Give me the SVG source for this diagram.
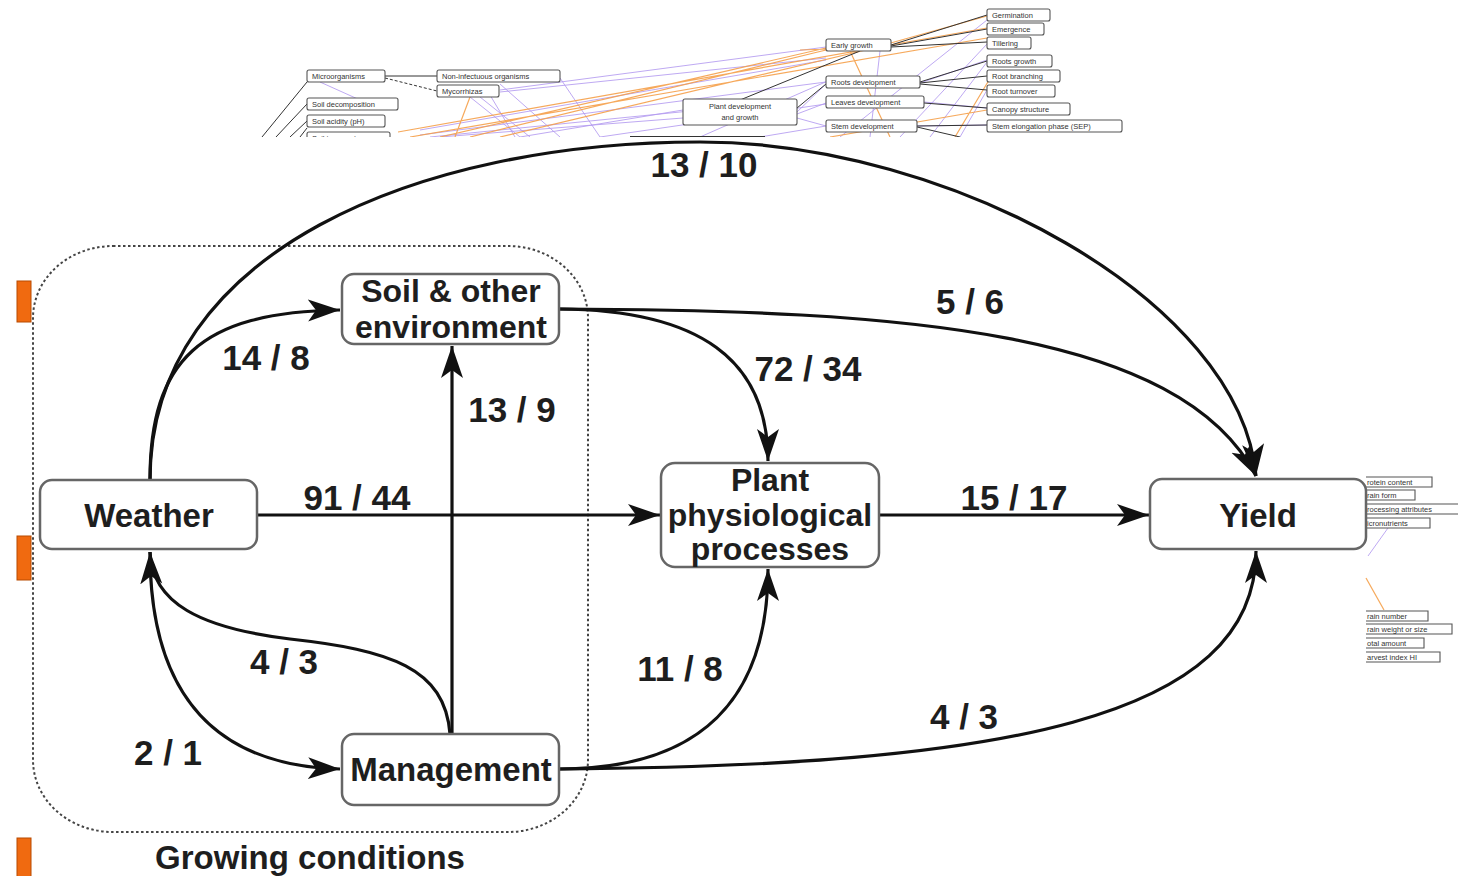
<svg xmlns="http://www.w3.org/2000/svg" width="1458" height="876" viewBox="0 0 1458 876">
<style>
.bg{fill:#ffffff}
.tb{fill:#fff;stroke:#555;stroke-width:1.1}
.tt{font-family:"Liberation Sans",Arial,sans-serif;font-size:7.5px;fill:#333}
.pl{stroke:#b39af0;stroke-width:1;fill:none;opacity:.85}
.ol{stroke:#f5a04a;stroke-width:1.2;fill:none;opacity:.9}
.kl{stroke:#333;stroke-width:1;fill:none}
.node rect{fill:#fff;stroke:#666;stroke-width:2.5}
.node text,.lab{font-family:"Liberation Sans",Arial,sans-serif;font-weight:bold;fill:#1e1e1e;text-anchor:middle}
.node text{font-size:33px}
.node text.ml{font-size:32px}
.lab{font-size:35px}
.edge{fill:none;stroke:#111;stroke-width:3.2}
.mk{fill:#111}
.orange{fill:#f06a10;stroke:#b84a00;stroke-width:1}
</style>
<defs>
<marker id="arr" markerUnits="userSpaceOnUse" markerWidth="34" markerHeight="24" refX="32" refY="11" orient="auto" viewBox="0 0 34 24">
<path class="mk" d="M0,0 L32,11 L0,22 L8,11 z"/>
</marker>
<clipPath id="thumbclip"><rect x="250" y="0" width="900" height="137"/></clipPath>
</defs>
<rect class="bg" x="0" y="0" width="1458" height="876"/>

<!-- background thumbnail -->
<g id="thumbnail" clip-path="url(#thumbclip)">
<path class="kl" d="M307,82 L262,137 M307,104 L276,137 M307,121 L290,137 M307,128 L300,137"/>
<path class="kl" stroke-width="1.8" d="M385,76 L437,76"/>
<path class="kl" stroke-dasharray="3,2" d="M385,78 L437,91"/>
<path class="pl" d="M320,82 L360,100 M500,90 L826,47 M500,92 L826,58 M470,97 L520,137 M480,97 L530,137 M490,95 L515,137 M500,84 L560,137 M560,78 L600,137 M420,130 L826,60 M420,135 L826,82 M430,137 L700,110 M440,137 L683,118 M520,137 L683,110 M600,137 L826,104 M700,137 L830,80 M760,137 L826,126 M797,112 L826,84 M797,114 L826,103 M797,118 L826,126 M920,83 L987,60 M924,102 L987,108 M900,137 L987,44 M930,137 L987,62 M960,137 L987,90 M917,126 L987,125 M840,137 L987,20 M870,137 L880,51"/>
<path class="ol" d="M398,132 L987,28 M410,137 L987,38 M440,137 L826,48 M470,137 L826,50 M470,97 L455,137 M500,137 L891,44 M890,137 L850,51 M880,46 L987,16 M955,137 L995,70 M830,137 L987,110 M800,50 L860,48"/>
<path class="kl" d="M891,45 L987,15 M891,46 L987,29 M891,47 L987,42 M920,82 L987,61 M920,83 L987,76 M920,84 L987,90 M924,103 L987,108 M917,126 L987,125 M917,127 L960,137 M797,108 L826,84 M740,100 L860,51"/>
<rect class="tb" x="307" y="70" width="78" height="12" rx="2"/><text class="tt" x="312" y="79">Microorganisms</text>
<rect class="tb" x="437" y="70" width="123" height="12" rx="2"/><text class="tt" x="442" y="79">Non-infectuous organisms</text>
<rect class="tb" x="437" y="85" width="62" height="12" rx="2"/><text class="tt" x="442" y="94">Mycorrhizas</text>
<rect class="tb" x="307" y="98" width="91" height="12" rx="2"/><text class="tt" x="312" y="107">Soil decomposition</text>
<rect class="tb" x="307" y="115" width="78" height="12" rx="2"/><text class="tt" x="312" y="124">Soil acidity (pH)</text>
<rect class="tb" x="307" y="132" width="83" height="12" rx="2"/><text class="tt" x="312" y="141">Soil temperature</text>
<rect class="tb" x="683" y="99" width="114" height="26" rx="2"/><text class="tt" x="740" y="109" text-anchor="middle">Plant development</text><text class="tt" x="740" y="120" text-anchor="middle">and growth</text>
<rect class="tb" x="826" y="39" width="65" height="12" rx="2"/><text class="tt" x="831" y="48">Early growth</text>
<rect class="tb" x="826" y="76" width="94" height="12" rx="2"/><text class="tt" x="831" y="85">Roots development</text>
<rect class="tb" x="826" y="96" width="98" height="12" rx="2"/><text class="tt" x="831" y="105">Leaves development</text>
<rect class="tb" x="826" y="120" width="91" height="12" rx="2"/><text class="tt" x="831" y="129">Stem development</text>
<rect class="tb" x="987" y="9" width="63" height="12" rx="2"/><text class="tt" x="992" y="18">Germination</text>
<rect class="tb" x="987" y="23" width="57" height="12" rx="2"/><text class="tt" x="992" y="32">Emergence</text>
<rect class="tb" x="987" y="37" width="44" height="12" rx="2"/><text class="tt" x="992" y="46">Tillering</text>
<rect class="tb" x="987" y="55" width="65" height="12" rx="2"/><text class="tt" x="992" y="64">Roots growth</text>
<rect class="tb" x="987" y="70" width="73" height="12" rx="2"/><text class="tt" x="992" y="79">Root branching</text>
<rect class="tb" x="987" y="85" width="68" height="12" rx="2"/><text class="tt" x="992" y="94">Root turnover</text>
<rect class="tb" x="987" y="103" width="83" height="12" rx="2"/><text class="tt" x="992" y="112">Canopy structure</text>
<rect class="tb" x="987" y="120" width="135" height="12" rx="2"/><text class="tt" x="992" y="129">Stem elongation phase (SEP)</text>
<rect x="630" y="136" width="135" height="2.5" fill="#333"/>
</g>

<!-- right strip of thumbnail -->
<g id="thumbnail-right">
<path class="pl" d="M1388,528 L1368,556"/>
<path class="ol" d="M1366,578 L1384,610"/>
<path class="tb" d="M1366,477 H1432 V487 H1366 M1366,490 H1415 V500 H1366 M1366,504 H1458 M1366,514 H1458 M1366,518 H1430 V528 H1366"/>
<text class="tt" x="1367" y="485">rotein content</text>
<text class="tt" x="1367" y="498">rain form</text>
<text class="tt" x="1367" y="512">rocessing attributes</text>
<text class="tt" x="1367" y="526">icronutrients</text>
<path class="tb" d="M1366,611 H1428 V621 H1366 M1366,624 H1452 V634 H1366 M1366,638 H1424 V648 H1366 M1366,652 H1440 V662 H1366"/>
<text class="tt" x="1367" y="619">rain number</text>
<text class="tt" x="1367" y="632">rain weight or size</text>
<text class="tt" x="1367" y="646">otal amount</text>
<text class="tt" x="1367" y="660">arvest index HI</text>
</g>

<!-- orange markers at left -->
<g id="markers">
<rect class="orange" x="17" y="281" width="14" height="41"/>
<rect class="orange" x="17" y="536" width="14" height="44"/>
<rect class="orange" x="17" y="838" width="14" height="40"/>
</g>

<!-- growing conditions container -->
<g id="growing-conditions">
<rect x="33" y="246" width="555" height="586" rx="80" ry="72" fill="none" stroke="#444" stroke-width="2" stroke-dasharray="2.5,2.5"/>
<text class="lab" x="310" y="869" style="font-size:33px">Growing conditions</text>
</g>

<!-- connectors -->
<g id="connectors">
<path class="edge" marker-end="url(#arr)" d="M150,480 C150,250 420,142 700,142 C950,142 1240,300 1256,476"/>
<path class="edge" marker-end="url(#arr)" d="M150,480 C150,360 200,312 340,310"/>
<path class="edge" marker-end="url(#arr)" d="M559,309 C700,310 768,360 768,461"/>
<path class="edge" marker-end="url(#arr)" d="M559,309 C900,310 1180,330 1256,476"/>
<path class="edge" marker-end="url(#arr)" d="M257,515 L660,515"/>
<path class="edge" marker-end="url(#arr)" d="M879,515 L1149,515"/>
<path class="edge" marker-end="url(#arr)" d="M452,734 L452,346"/>
<path class="edge" marker-end="url(#arr)" d="M450,734 C445,668 390,650 290,639 C200,628 152,603 150,552"/>
<path class="edge" marker-end="url(#arr)" d="M150,552 C150,700 220,766 340,769"/>
<path class="edge" marker-end="url(#arr)" d="M559,769 C700,769 768,700 768,569"/>
<path class="edge" marker-end="url(#arr)" d="M559,769 C1000,766 1256,720 1256,551"/>
<text class="lab" x="704" y="177">13 / 10</text>
<text class="lab" x="266" y="370">14 / 8</text>
<text class="lab" x="808" y="381">72 / 34</text>
<text class="lab" x="970" y="314">5 / 6</text>
<text class="lab" x="357" y="510">91 / 44</text>
<text class="lab" x="1014" y="510">15 / 17</text>
<text class="lab" x="512" y="422">13 / 9</text>
<text class="lab" x="284" y="674">4 / 3</text>
<text class="lab" x="168" y="765">2 / 1</text>
<text class="lab" x="680" y="681">11 / 8</text>
<text class="lab" x="964" y="729">4 / 3</text>
</g>

<!-- nodes -->
<g id="weather" class="node">
<rect x="40" y="480" width="217" height="69" rx="12"/>
<text x="149" y="527">Weather</text>
</g>
<g id="soil" class="node">
<rect x="342" y="274" width="217" height="70" rx="12"/>
<text class="ml" x="451" y="302">Soil &amp; other</text>
<text class="ml" x="451" y="338">environment</text>
</g>
<g id="management" class="node">
<rect x="342" y="734" width="217" height="71" rx="12"/>
<text x="451" y="781">Management</text>
</g>
<g id="plant" class="node">
<rect x="661" y="463" width="218" height="104" rx="14"/>
<text class="ml" x="770" y="491">Plant</text>
<text class="ml" x="770" y="526">physiological</text>
<text class="ml" x="770" y="560">processes</text>
</g>
<g id="yield" class="node">
<rect x="1150" y="479" width="216" height="70" rx="12"/>
<text x="1258" y="527">Yield</text>
</g>
</svg>
